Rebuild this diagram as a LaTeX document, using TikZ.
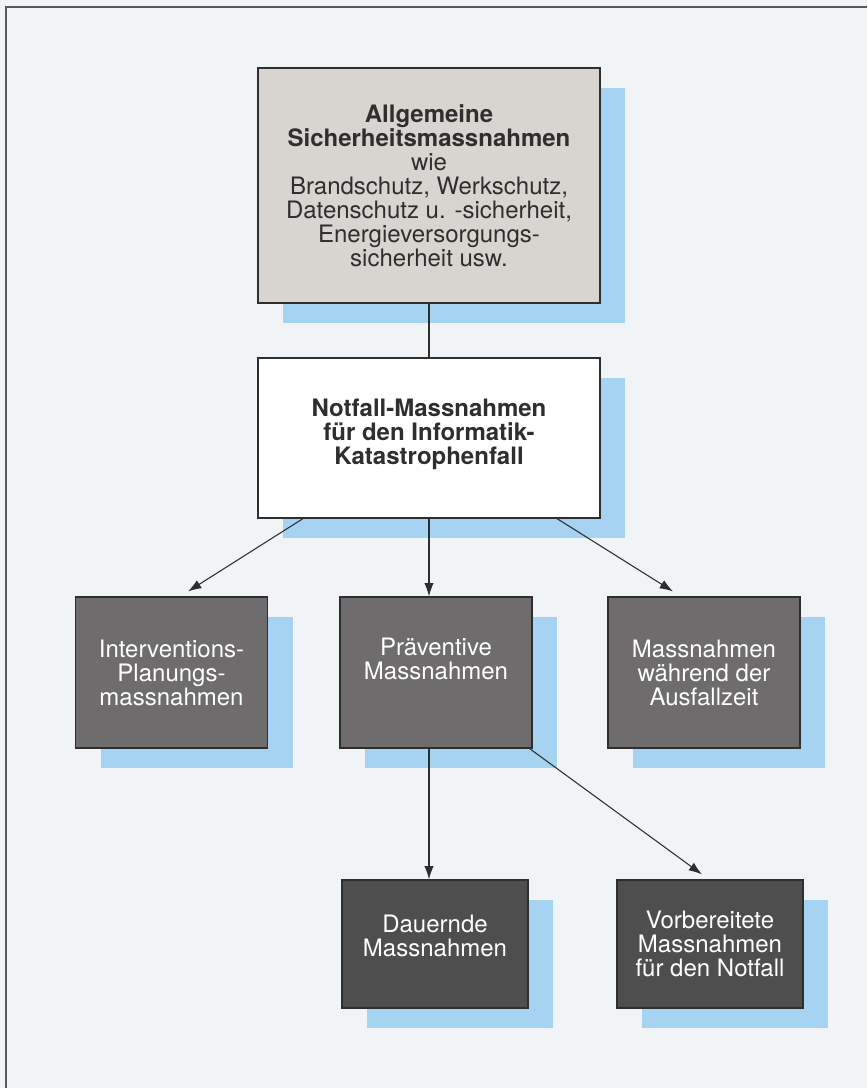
\documentclass[tikz,border=0pt]{standalone}
\usepackage{fontspec}
\setmainfont{TeX Gyre Heros}
\usetikzlibrary{positioning,arrows,arrows.meta,shadows}
\tikzset{>={Latex[length=10pt,width=7pt]}}

\definecolor{paper}{HTML}{F1F4F7}
\definecolor{shadowblue}{HTML}{A6D3F1}
\definecolor{lightgrey}{HTML}{D8D5D1}
\definecolor{midgrey}{HTML}{6E6C6C}
\definecolor{darkgrey}{HTML}{4F4E4E}
\definecolor{inkgrey}{HTML}{2E2E2E}

\begin{document}
\begin{tikzpicture}[x=0.75pt,y=-0.75pt,
    every text node part/.style={align=center},
    box/.style={draw=inkgrey, line width=0.9pt, inner sep=0pt, text=inkgrey,
      font=\fontsize{18}{18}\selectfont,
      general shadow={fill=shadowblue, shadow xshift=18.75pt, shadow yshift=-15pt}},
    bigbox/.style={box, minimum width=256.5pt},
    midbox/.style={box, fill=midgrey, text=white, minimum width=144pt, minimum height=113.25pt},
    lowbox/.style={box, fill=darkgrey, text=white, minimum width=139.5pt, minimum height=96pt},
    link/.style={draw=inkgrey, line width=0.8pt}]

      % page and frame
      \useasboundingbox (0,0) rectangle (867,1088);
      \fill[paper] (0,0) rectangle (867,1088);
      \draw[inkgrey!80, line width=1.2pt] (6,1088) -- (6,7) -- (867,7);

      \node[bigbox, fill=lightgrey, minimum height=176.25pt] (allgemein) at (429,185.5)
        {\textbf{Allgemeine}\\\textbf{Sicherheitsmassnahmen}\\wie\\Brandschutz, Werkschutz,\\Datenschutz u. -sicherheit,\\Energieversorgungs-\\sicherheit usw.};
      \node[bigbox, fill=white, minimum height=120pt] (notfall) at (429,438)
        {\textbf{Notfall-Massnahmen}\\\textbf{für den Informatik-}\\\textbf{Katastrophenfall}\\[-9pt]};

      \node[midbox] (interv)  at (171.5,672.5) {Interventions-\\Planungs-\\massnahmen};
      \node[midbox] (praev)   at (436,672.5)   {Präventive\\Massnahmen\\[3pt]};
      \node[midbox] (ausfall) at (704,672.5)   {Massnahmen\\während der\\Ausfallzeit};

      \node[lowbox] (dauernd) at (435,944)     {Dauernde\\Massnahmen\\[-6pt]};
      \node[lowbox] (vorber)  at (710,944)     {Vorbereitete\\Massnahmen\\für den Notfall};

      \draw[link] (allgemein.south) -- (notfall.north);

      \draw[link,->] ([xshift=-94.5pt]notfall.south) -- ([xshift=12.4pt,yshift=3.75pt]interv.north);
      \draw[link,->] (notfall.south) -- (notfall.south |- praev.north);
      \draw[link,->] ([xshift=96pt]notfall.south) -- ([xshift=-23.25pt,yshift=3.75pt]ausfall.north);

      \draw[link,->] (notfall.south |- praev.south) -- (notfall.south |- dauernd.north);
      \draw[link,->] ([xshift=-2.25pt]praev.south east) -- ([xshift=-6pt,yshift=3.75pt]vorber.north);
    \end{tikzpicture}
\end{document}
